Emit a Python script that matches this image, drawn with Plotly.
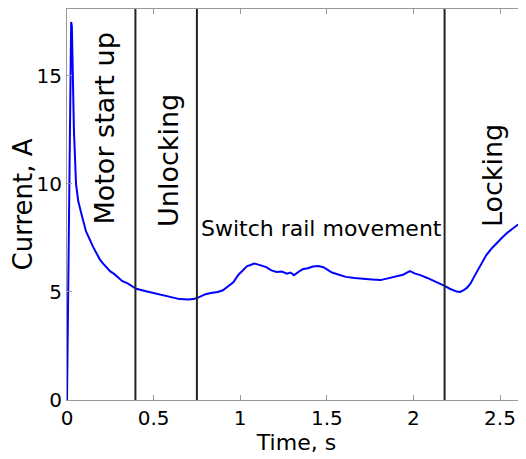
import plotly.graph_objects as go

# ---- data ----
time_s = [0, 0.004, 0.008, 0.012, 0.016, 0.02, 0.024, 0.028, 0.033, 0.04, 0.052, 0.065,
          0.087, 0.11, 0.15, 0.19, 0.21, 0.25, 0.27, 0.32, 0.35, 0.40, 0.45, 0.50, 0.55,
          0.60, 0.65, 0.70, 0.73, 0.75, 0.77, 0.80, 0.83, 0.87, 0.90, 0.93, 0.96, 0.99,
          1.02, 1.04, 1.06, 1.08, 1.10, 1.12, 1.15, 1.18, 1.21, 1.24, 1.27, 1.29, 1.31,
          1.34, 1.36, 1.39, 1.42, 1.45, 1.48, 1.51, 1.53, 1.57, 1.61, 1.66, 1.71, 1.76,
          1.81, 1.85, 1.88, 1.91, 1.94, 1.96, 1.98, 2.01, 2.04, 2.08, 2.11, 2.15, 2.18,
          2.21, 2.23, 2.25, 2.27, 2.29, 2.31, 2.33, 2.35, 2.38, 2.42, 2.45, 2.48, 2.51,
          2.54, 2.57, 2.60, 2.63, 2.66]
current_a = [0, 3, 7, 11, 14.5, 16.8, 17.5, 17.3, 15.0, 12.5, 10.0, 9.2,
             8.5, 7.8, 7.1, 6.5, 6.3, 5.95, 5.85, 5.5, 5.4, 5.15, 5.05, 4.95, 4.85,
             4.75, 4.67, 4.65, 4.67, 4.72, 4.8, 4.9, 4.95, 5.0, 5.08, 5.25, 5.45, 5.8,
             6.02, 6.2, 6.25, 6.32, 6.28, 6.22, 6.15, 6.0, 5.93, 5.95, 5.85, 5.9, 5.78,
             5.95, 6.05, 6.1, 6.18, 6.2, 6.15, 6.0, 5.9, 5.8, 5.7, 5.65, 5.6, 5.58,
             5.55, 5.62, 5.68, 5.72, 5.8, 5.88, 5.97, 5.85, 5.78, 5.65, 5.55, 5.4, 5.28,
             5.15, 5.08, 5.02, 5.0, 5.08, 5.2, 5.4, 5.7, 6.15, 6.7, 7.0, 7.27, 7.5,
             7.73, 7.9, 8.1, 8.2, 8.3]

phase_bounds = [0.395, 0.75, 2.18]
phase_labels = ["Motor start up", "Unlocking", "Switch rail movement", "Locking"]
phase_label_x = [0.214, 0.583, 1.467, 2.46]
phase_label_y = [12.57, 11.11, 7.96, 10.37]
phase_label_angle = [-90, -90, 0, -90]
phase_label_size = [27, 27, 22, 27]

x_ticks = [0, 0.5, 1, 1.5, 2, 2.5]
x_tick_text = ["0", "0.5", "1", "1.5", "2", "2.5"]
y_ticks = [0, 5, 10, 15]

FONT = "DejaVu Sans"

fig = go.Figure()
fig.add_trace(go.Scatter(x=time_s, y=current_a, mode="lines",
                         line=dict(color="#0000ff", width=2), showlegend=False))

for b in phase_bounds:
    fig.add_shape(type="line", xref="x", yref="y", x0=b, x1=b, y0=0, y1=18.1,
                  line=dict(color="#222222", width=2))

for txt, xx, yy, ang, sz in zip(phase_labels, phase_label_x, phase_label_y,
                                phase_label_angle, phase_label_size):
    fig.add_annotation(x=xx, y=yy, xref="x", yref="y", text=txt, showarrow=False,
                       textangle=ang, font=dict(family=FONT, size=sz, color="black"))

# page body has an 8px default margin, so the figure is 8px smaller on each side
fig.update_layout(
    width=518, height=451,
    margin=dict(l=59, r=0, t=1, b=59),
    paper_bgcolor="white", plot_bgcolor="white",
    font=dict(family=FONT, size=20, color="black"),
    xaxis=dict(range=[0, 2.65], tickvals=x_ticks, ticktext=x_tick_text,
               ticks="inside", ticklen=5, tickcolor="#999999", automargin=False,
               showline=True, linecolor="#999999", linewidth=1, mirror="ticks",
               showgrid=False, zeroline=False, tickfont=dict(size=20),
               title=dict(text="Time, s", standoff=0, font=dict(size=22))),
    yaxis=dict(range=[0, 18.1], tickvals=y_ticks, automargin=False,
               ticks="inside", ticklen=5, tickcolor="#999999",
               showline=True, linecolor="#999999", linewidth=1,
               showgrid=False, zeroline=False, tickfont=dict(size=20),
               title=dict(text="Current, A", standoff=4, font=dict(size=26))),
)

fig.write_html("out.html")
